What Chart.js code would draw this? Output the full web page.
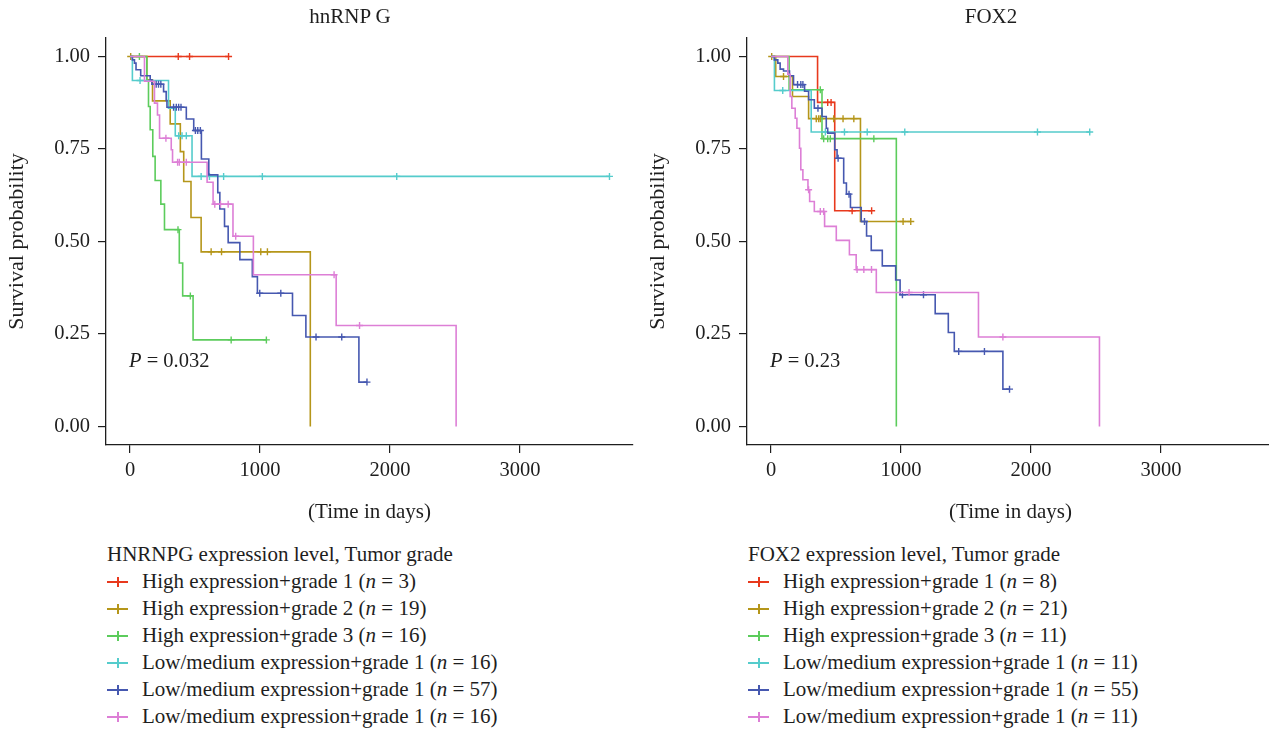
<!DOCTYPE html>
<html>
<head>
<meta charset="utf-8">
<script src="https://cdn.jsdelivr.net/npm/chart.js@4.4.1/dist/chart.umd.min.js"></script>
<style>
  html, body { margin: 0; padding: 0; background: #fff; overflow: hidden; }
  body { width: 1269px; height: 731px; position: relative; font-family: "Liberation Serif", serif; color: #1e1e1e; }
  .panel { position: absolute; top: 0; width: 640px; height: 731px; }
  .panel canvas { position: absolute; left: 0; top: 0; }
  .title { position: absolute; top: 4px; left: 250px; width: 200px; text-align: center; font-size: 21px; line-height: 25px; }
  .pval { position: absolute; left: 129px; top: 348px; font-size: 20.5px; line-height: 24px; white-space: nowrap; }
  .legend { position: absolute; left: 107px; top: 541px; font-size: 21px; line-height: 27px; white-space: nowrap; }
  .legend .row { display: flex; align-items: center; height: 27px; }
  .key { position: relative; width: 21px; height: 27px; margin-right: 14px; flex: none; }
  .key::before { content: ""; position: absolute; left: 0; top: 13px; width: 21px; height: 2px; background: currentColor; }
  .key::after { content: ""; position: absolute; left: 9.5px; top: 9px; width: 2px; height: 10px; background: currentColor; }
</style>
</head>
<body>

<div class="panel" style="left:0px">
  <canvas id="hnChart" width="640" height="540"></canvas>
  <div class="title">hnRNP G</div>
  <div class="pval"><i>P</i> = 0.032</div>
  <div class="legend" id="hnLegend"></div>
</div>

<div class="panel" style="left:641px">
  <canvas id="foxChart" width="640" height="540"></canvas>
  <div class="title">FOX2</div>
  <div class="pval"><i>P</i> = 0.23</div>
  <div class="legend" id="foxLegend"></div>
</div>

<script>
// ---------------- data ----------------
const groupNames = [
    "High expression+grade 1",
    "High expression+grade 2",
    "High expression+grade 3",
    "Low/medium expression+grade 1",
    "Low/medium expression+grade 1",
    "Low/medium expression+grade 1"
];
const hnCounts = [3, 19, 16, 16, 57, 16];
const foxCounts = [8, 21, 11, 11, 55, 11];
const xTicks = [0, 1000, 2000, 3000];
const yTicks = [0, 0.25, 0.5, 0.75, 1];

// each point: [time in days, survival probability, censored (1) or event (0)]
const hnHigh1 = [[0,1,0],[371,1,1],[458,1,1],[758,1,1]];
const hnHigh2 = [[0,1,0],[5,1,1],[129,0.937,0],[173,0.880,0],[309,0.818,0],[387,0.743,0],[413,0.662,0],
    [469,0.565,0],[547,0.472,0],[624,0.472,1],[704,0.472,1],[1006,0.472,1],[1057,0.472,1],[1387,0,0]];
const hnHigh3 = [[0,1,0],[72,1,1],[129,0.933,0],[142,0.865,0],[155,0.802,0],[175,0.730,0],[193,0.665,0],
    [237,0.601,0],[265,0.532,0],[369,0.532,1],[379,0.442,0],[405,0.353,0],[464,0.353,1],[485,0.234,0],
    [778,0.234,1],[1049,0.234,1]];
const hnLowA = [[0,1,0],[18,0.935,0],[77,0.935,1],[296,0.860,0],[348,0.786,0],[374,0.786,1],[400,0.786,1],
    [433,0.786,1],[477,0.676,0],[547,0.676,1],[611,0.676,1],[720,0.676,1],[1018,0.676,1],[2052,0.676,1],
    [3689,0.676,1]];
const hnLowB = [[0,1,0],[18,0.991,0],[34,0.982,0],[46,0.964,0],[82,0.948,0],[155,0.937,0],[168,0.925,0],
    [201,0.925,1],[219,0.925,1],[237,0.925,1],[258,0.905,0],[278,0.881,0],[284,0.863,0],[335,0.863,1],
    [356,0.863,1],[374,0.863,1],[392,0.863,1],[433,0.831,0],[490,0.800,0],[503,0.800,1],[521,0.800,1],
    [541,0.800,1],[549,0.723,0],[606,0.680,0],[675,0.632,0],[691,0.588,0],[727,0.541,0],[755,0.497,0],
    [845,0.451,0],[941,0.405,0],[980,0.360,0],[998,0.360,1],[1160,0.360,1],[1250,0.300,0],[1353,0.242,0],
    [1431,0.242,1],[1629,0.242,1],[1761,0.120,0],[1823,0.120,1]];
const hnLowC = [[0,1,0],[111,0.933,0],[188,0.874,0],[211,0.842,0],[227,0.779,0],[276,0.779,1],[317,0.748,0],
    [327,0.714,0],[366,0.714,1],[379,0.714,1],[433,0.714,1],[593,0.660,0],[639,0.601,0],[652,0.601,1],
    [696,0.601,1],[755,0.601,1],[792,0.514,0],[813,0.514,1],[949,0.410,0],[1570,0.410,1],[1586,0.273,0],
    [1766,0.273,1],[2509,0,0]];

const foxHigh1 = [[0,1,0],[358,0.876,0],[436,0.876,1],[462,0.876,1],[490,0.583,0],[624,0.583,1],[774,0.583,1]];
const foxHigh2 = [[0,1,0],[5,1,1],[36,0.946,0],[96,0.946,1],[165,0.892,0],[289,0.832,0],[348,0.832,1],
    [366,0.832,1],[379,0.832,1],[482,0.832,1],[554,0.832,1],[637,0.832,1],[688,0.554,0],[1016,0.554,1],
    [1075,0.554,1]];
const foxHigh3 = [[0,1,0],[139,0.910,0],[379,0.910,1],[392,0.778,0],[405,0.778,1],[436,0.778,1],[456,0.778,1],
    [791,0.778,1],[964,0,0]];
const foxLowA = [[0,1,0],[26,0.908,0],[90,0.908,1],[309,0.796,0],[418,0.796,1],[565,0.796,1],[740,0.796,1],
    [1029,0.796,1],[2050,0.796,1],[2452,0.796,1]];
const foxLowB = [[0,1,0],[25,0.991,0],[52,0.982,0],[70,0.966,0],[96,0.961,0],[142,0.948,0],[173,0.924,0],
    [204,0.924,1],[229,0.924,1],[245,0.924,1],[258,0.906,0],[289,0.883,0],[333,0.860,0],[361,0.860,1],
    [392,0.838,0],[425,0.806,0],[436,0.793,0],[490,0.748,0],[508,0.725,0],[516,0.725,1],[559,0.658,0],
    [580,0.628,0],[600,0.628,1],[611,0.592,0],[694,0.554,0],[719,0.554,1],[735,0.515,0],[771,0.476,0],
    [856,0.434,0],[959,0.396,0],[993,0.356,0],[1011,0.356,1],[1173,0.356,1],[1263,0.305,0],[1364,0.254,0],
    [1410,0.203,0],[1444,0.203,1],[1642,0.203,1],[1784,0.101,0],[1835,0.101,1]];
const foxLowC = [[0,1,0],[129,0.952,0],[147,0.892,0],[160,0.860,0],[186,0.833,0],[199,0.806,0],[219,0.752,0],
    [229,0.694,0],[245,0.667,0],[284,0.640,0],[289,0.640,1],[297,0.608,0],[333,0.581,0],[379,0.581,1],
    [405,0.581,1],[412,0.541,0],[502,0.503,0],[603,0.464,0],[655,0.424,0],[662,0.424,1],[714,0.424,1],
    [773,0.424,1],[810,0.362,0],[1062,0.362,1],[1596,0.242,0],[1784,0.242,1],[2527,0,0]];

// ---------------- style ----------------
const groupColors = ["#e8391d", "#b5961a", "#5ccc5c", "#55cccc", "#4658b0", "#dd7fd6"];
const serif = "'Liberation Serif', serif";
const ink = "#1e1e1e";


function makeChart(id, series){

    return new Chart(document.getElementById(id), {

        type: "line",

        data: {
            datasets: series.map((pts, i) => ({
                data: pts.map(p => ({ x: p[0], y: p[1] })),
                borderColor: groupColors[i],
                backgroundColor: groupColors[i],
                borderWidth: 1.6,
                stepped: true,
                fill: false,
                pointStyle: "cross",
                pointRadius: pts.map(p => p[2] ? 3.5 : 0),
                pointBorderWidth: 1.4,
                pointBorderColor: groupColors[i],
                order: series.length - i
            }))
        },

        options: {
            responsive: false,
            animation: false,
            events: [],
            layout: { padding: { top: 38, right: 7, left: 0, bottom: 0 } },
            plugins: {
                legend: { display: false },
                tooltip: { enabled: false }
            },
            scales: {
                x: {
                    type: "linear",
                    min: -185,
                    max: 3870,
                    afterBuildTicks: s => { s.ticks = xTicks.map(v => ({ value: v })); },
                    afterFit: s => { s.height = 95; },
                    grid: { drawOnChartArea: false, tickLength: 8, color: ink, lineWidth: 1.2 },
                    border: { color: ink, width: 1.3 },
                    ticks: {
                        padding: 5, color: ink, maxRotation: 0, font: { family: serif, size: 20.5 },
                        callback: v => String(v)
                    },
                    title: {
                        display: true, text: "(Time in days)", color: ink,
                        font: { family: serif, size: 21 }, padding: { top: 0, bottom: 15 }
                    }
                },
                y: {
                    type: "linear",
                    min: -0.05,
                    max: 1.05,
                    afterBuildTicks: s => { s.ticks = yTicks.map(v => ({ value: v })); },
                    afterFit: s => { s.width = 106; },
                    grid: { drawOnChartArea: false, tickLength: 8, color: ink, lineWidth: 1.2 },
                    border: { color: ink, width: 1.3 },
                    ticks: {
                        padding: 8, color: ink, font: { family: serif, size: 20.5 },
                        callback: v => Number(v).toFixed(2)
                    },
                    title: {
                        display: true, text: "Survival probability", color: ink,
                        font: { family: serif, size: 22 }, padding: { top: 4, bottom: 0 }
                    }
                }
            }
        }

    });

}


function buildLegend(id, title, counts){

    const box = document.getElementById(id);

    let html = `<div>${title}</div>`;

    groupNames.forEach((name, i) => {
        html += `<div class="row"><span class="key" style="color:${groupColors[i]}"></span>` +
                `<span>${name} (<i>n</i> = ${counts[i]})</span></div>`;
    });

    box.innerHTML = html;

}


makeChart("hnChart", [hnHigh1, hnHigh2, hnHigh3, hnLowA, hnLowB, hnLowC]);
makeChart("foxChart", [foxHigh1, foxHigh2, foxHigh3, foxLowA, foxLowB, foxLowC]);

buildLegend("hnLegend", "HNRNPG expression level, Tumor grade", hnCounts);
buildLegend("foxLegend", "FOX2 expression level, Tumor grade", foxCounts);
</script>
</body>
</html>
